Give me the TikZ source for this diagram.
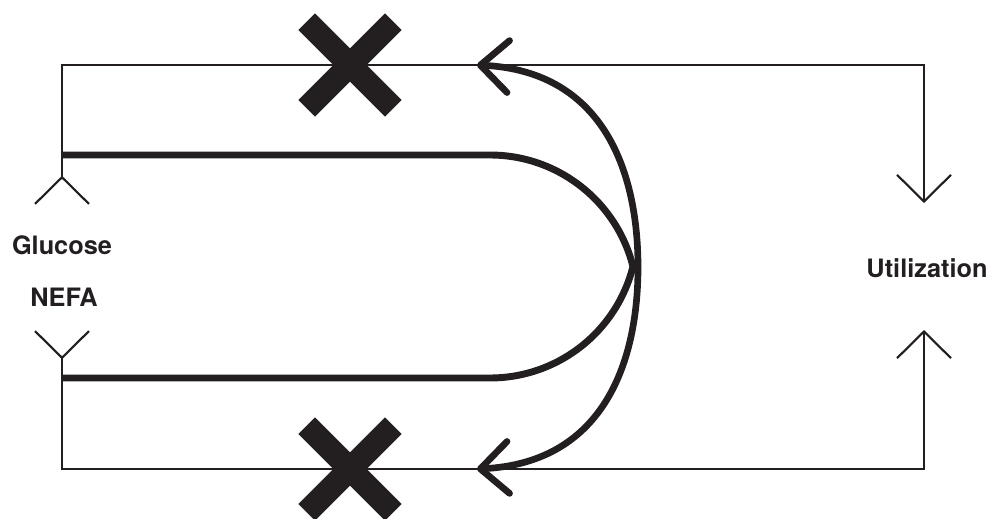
\documentclass[tikz,border=0pt]{standalone}
\usepackage{fontspec}
\setmainfont{TeX Gyre Heros}
\usetikzlibrary{arrows.meta}

\definecolor{ink}{HTML}{231F20}

\tikzset{
  thinbarb/.tip={Straight Barb[length=20pt, width=40.5pt]},
  bigbarb/.tip={Straight Barb[length=21pt, width=39pt, round]},
  flow/.style={draw=ink, line width=1.6pt},
  band/.style={draw=ink, line width=5.2pt},
  loop/.style={draw=ink, line width=5pt},
  blockmark/.style={draw=ink, line width=17.6pt},
  lbl/.style={font=\fontsize{19}{22}\selectfont\bfseries, text=ink}
}

\begin{document}
\begin{tikzpicture}[x=0.75pt, y=-0.75pt]

    \useasboundingbox (0,0) rectangle (988,518);

    % corners and ends of the thin supply lines
    \coordinate (gluIn)  at (62,205);
    \coordinate (topL)   at (62,65);
    \coordinate (topR)   at (924,65);
    \coordinate (utilA)  at (924,203);
    \coordinate (nefaIn) at (62,330);
    \coordinate (botL)   at (62,469);
    \coordinate (botR)   at (924,469);
    \coordinate (utilB)  at (924,330);

    % labels
    \node[lbl] (glc)  at (62,245)  {Glucose};
    \node[lbl] (nefa) at (64,297)  {NEFA};
    \node[lbl] (util) at (927,268) {Utilization};

    % thin supply lines
    \draw[flow, {thinbarb[reversed]}-{thinbarb}] (gluIn) -- (topL) -- (topR) -- (utilA);
    \draw[flow, {thinbarb[reversed]}-{thinbarb}] (nefaIn) -- (botL) -- (botR) -- (utilB);

    % thick U band
    \coordinate (bandA) at (62,155);
    \coordinate (bandB) at (490,155);
    \coordinate (bandC) at (62,378);
    \draw[band] (bandA) -- (bandB)
        arc[start angle=-90, end angle=-14.1, radius=147.4]
        arc[start angle=14.1, end angle=90, radius=147.4] -- (bandC);

    % feedback loop
    \coordinate (loopA) at (477,65);
    \coordinate (loopM) at (638,267);
    \coordinate (loopB) at (477,469);
    \draw[loop, {bigbarb}-{bigbarb}] (loopA) .. controls (607,71.5) and (638,177) .. (loopM)
        .. controls (638,357) and (607,462.5) .. (loopB);

    % blocked
    \coordinate (xTop) at (350,65);
    \coordinate (xBot) at (350,469);
    \foreach \c in {xTop, xBot} {
        \draw[blockmark] (\c) ++(-43.3,-43.3) -- ++(86.6,86.6);
        \draw[blockmark] (\c) ++(-43.3,43.3) -- ++(86.6,-86.6);
    }

\end{tikzpicture}
\end{document}
